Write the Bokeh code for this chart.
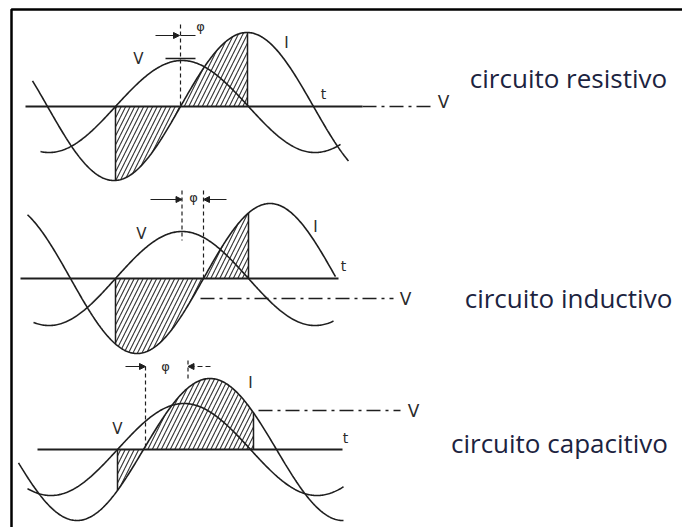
import numpy as np
from bokeh.plotting import figure
from bokeh.models import Range1d, Arrow, NormalHead
from bokeh.embed import file_html
from bokeh.resources import INLINE
from bokeh.core.properties import value

# ---- values (reference pixel space) ----
panel_names = ["circuito resistivo", "circuito inductivo", "circuito capacitivo"]
name_x = [568, 568, 559]
name_base = [77, 297, 442]

axis_y = [106, 278, 449]          # time axis of each panel
axis_x0 = [25, 20, 37]
axis_x1 = [362, 338, 342]
period = [266, 266, 266]

v_zero_up = [115, 115, 117]       # rising zero crossing of V
v_amp = [46, 47, 46]
v_x0 = [40, 33, 27]
v_x1 = [340, 333, 343]

i_zero_up = [180, 203, 143]       # rising zero crossing of I
i_amp = [74, 75, 71]
i_x0 = [32, 27, 18]
i_x1 = [348, 335, 343]

hatch_x1 = [247, 248, 253]        # end of hatched region

vref_y = [106, 298, 410]          # dash-dot "V" reference line
vref_x0 = [362, 200, 258]
vref_x1 = [430, 393, 400]

v_lbl = [(138, 58), (141, 233), (117, 428)]
i_lbl = [(286, 42), (315, 226), (250, 382)]
t_lbl = [(323, 93), (343, 265), (345, 437)]
vr_lbl = [(443, 101), (405, 298), (413, 410)]
phi_lbl = [(200, 26), (193, 197), (165, 366)]
phi_y = [35, 199, 366]

INK = "#1e1e1e"
W, H = 682, 527
p = figure(width=W, height=H, output_backend="svg", toolbar_location=None,
           x_range=Range1d(0, W), y_range=Range1d(H, 0),
           min_border=0, background_fill_color="white", border_fill_color="white")
p.axis.visible = False
p.grid.visible = False
p.outline_line_color = None

# frame
p.line([11, 11, W], [H, 9, 9], line_color="black", line_width=2.5)


def wave(x, x0, amp, per, base):
    return base - amp * np.sin(2 * np.pi * (x - x0) / per)


for k in range(3):
    b = axis_y[k]
    per = period[k]
    # hatched region between I and axis, from V rising to V falling zero
    xs = np.linspace(v_zero_up[k], hatch_x1[k], 120)
    yi = wave(xs, i_zero_up[k], i_amp[k], per, b)
    p.varea(x=xs, y1=np.full_like(xs, b), y2=yi, fill_alpha=0,
            hatch_pattern="/", hatch_color="#333333", hatch_scale=9, hatch_weight=1.1)
    # vertical bounding lines of hatch
    for xe in (v_zero_up[k], hatch_x1[k]):
        p.line([xe, xe], [b, wave(xe, i_zero_up[k], i_amp[k], per, b)],
               line_color=INK, line_width=1.5)
    # axis
    p.line([axis_x0[k], axis_x1[k]], [b, b], line_color=INK, line_width=1.8)
    # dash-dot reference V
    p.line([vref_x0[k], vref_x1[k]], [vref_y[k], vref_y[k]], line_color=INK,
           line_width=1.5, line_dash="14 5 3 5")
    # curves
    xv = np.linspace(v_x0[k], v_x1[k], 300)
    p.line(xv, wave(xv, v_zero_up[k], v_amp[k], per, b), line_color=INK, line_width=1.6)
    xi = np.linspace(i_x0[k], i_x1[k], 300)
    p.line(xi, wave(xi, i_zero_up[k], i_amp[k], per, b), line_color=INK, line_width=1.6)

    # labels
    for (lx, ly), txt, sz in ((v_lbl[k], "V", "15px"), (i_lbl[k], "I", "15px"),
                              (t_lbl[k], "t", "14px"), (vr_lbl[k], "V", "17px"),
                              (phi_lbl[k], "φ", "13px")):
        p.text(x=[lx], y=[ly], text=[txt], text_font=value("DejaVu Sans"),
               text_font_size=sz, text_color="#2a2a2a",
               text_align="center", text_baseline="middle")

    # right-hand names
    p.text(x=[name_x[k]], y=[name_base[k]], text=[panel_names[k]],
           text_font=value("Open Sans"), text_font_size="26px", text_color="#1c2340",
           text_align="center", text_baseline="alphabetic")

# phase markers
v_peak = [v_zero_up[k] + period[k] / 4 for k in range(3)]
# panel 1: single dashed line at I zero crossing, arrow pointing right
p.line([i_zero_up[0], i_zero_up[0]], [24, axis_y[0]], line_color=INK, line_width=1.2, line_dash="4 3")
p.add_layout(Arrow(end=NormalHead(size=6, fill_color=INK, line_color=INK),
                   x_start=155, y_start=phi_y[0], x_end=i_zero_up[0] - 1, y_end=phi_y[0],
                   line_color=INK, line_width=1.2))
p.line([i_zero_up[0], 195], [phi_y[0], phi_y[0]], line_color=INK, line_width=1.2)
p.line([165, 195], [58, 58], line_color=INK, line_width=1.6)

# panel 2: dashed at V peak and I zero, inward arrows
p.line([v_peak[1], v_peak[1]], [190, 240], line_color=INK, line_width=1.2, line_dash="4 3")
p.line([i_zero_up[1], i_zero_up[1]], [190, axis_y[1]], line_color=INK, line_width=1.2, line_dash="4 3")
p.add_layout(Arrow(end=NormalHead(size=6, fill_color=INK, line_color=INK),
                   x_start=150, y_start=phi_y[1], x_end=v_peak[1], y_end=phi_y[1],
                   line_color=INK, line_width=1.2))
p.add_layout(Arrow(end=NormalHead(size=6, fill_color=INK, line_color=INK),
                   x_start=226, y_start=phi_y[1], x_end=i_zero_up[1], y_end=phi_y[1],
                   line_color=INK, line_width=1.2))

# panel 3
p.line([i_zero_up[2] + 2, i_zero_up[2] + 2], [phi_y[2], axis_y[2]], line_color=INK, line_width=1.2, line_dash="4 3")
p.line([v_peak[2] + 4, v_peak[2] + 4], [phi_y[2] - 6, 380], line_color=INK, line_width=1.2, line_dash="4 3")
p.add_layout(Arrow(end=NormalHead(size=6, fill_color=INK, line_color=INK),
                   x_start=125, y_start=phi_y[2], x_end=i_zero_up[2] + 2, y_end=phi_y[2],
                   line_color=INK, line_width=1.2))
p.add_layout(Arrow(end=NormalHead(size=6, fill_color=INK, line_color=INK),
                   x_start=210, y_start=phi_y[2], x_end=v_peak[2] + 4, y_end=phi_y[2],
                   line_color=INK, line_width=1.2, line_dash="5 3"))

open("out.html", "w").write(file_html(p, INLINE))
